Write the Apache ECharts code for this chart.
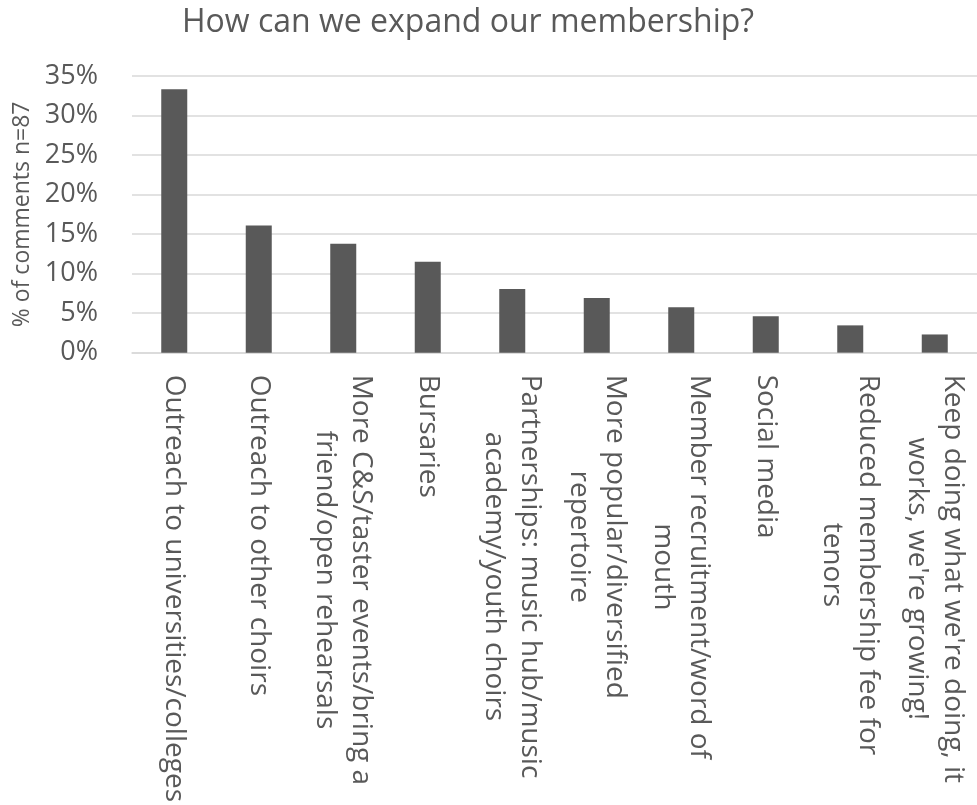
<!DOCTYPE html>
<html>
<head>
<meta charset="utf-8">
<title>How can we expand our membership?</title>
<script src="https://cdn.jsdelivr.net/npm/echarts@6/dist/echarts.min.js"></script>
<style>
  html, body { margin: 0; padding: 0; background: #ffffff; }
  #chart { width: 977px; height: 805px; }
</style>
</head>
<body>
<div id="chart"></div>
<script>
// Suggestions grouped from 87 comments, share of comments in percent
const categories = [
  'Outreach to universities/colleges',
  'Outreach to other choirs',
  'More C&S/taster events/bring a\nfriend/open rehearsals',
  'Bursaries',
  'Partnerships: music hub/music\nacademy/youth choirs',
  'More popular/diversified\nrepertoire',
  'Member recruitment/word of\nmouth',
  'Social media',
  'Reduced membership fee for\ntenors',
  "Keep doing what we're doing, it\nworks, we're growing!"
];
const shareOfComments = [33.33, 16.09, 13.79, 11.49, 8.05, 6.90, 5.75, 4.60, 3.45, 2.30];
const yTicks = { min: 0, max: 35, interval: 5 };

const TEXT = '#595959';
const FONT = 'Open Sans';

const chart = echarts.init(document.getElementById('chart'), null, { renderer: 'canvas' });

chart.setOption({
  backgroundColor: '#ffffff',
  animation: false,
  title: {
    text: 'How can we expand our membership?',
    left: 177,
    top: 2,
    textStyle: { color: TEXT, fontFamily: FONT, fontSize: 32, fontWeight: 'normal' }
  },
  grid: { left: 132, right: -6, top: 76, bottom: 450, containLabel: false },
  xAxis: {
    type: 'category',
    data: categories,
    axisLine: { show: true, lineStyle: { color: '#d9d9d9', width: 1.5 } },
    axisTick: { show: false },
    axisLabel: {
      interval: 0,
      rotate: -90,
      margin: 22,
      color: TEXT,
      fontFamily: FONT,
      fontSize: 28,
      // each wrapped line is centred within the label block
      formatter: function (value) {
        return value.split('\n').map(function (l) { return '{c|' + l + '}'; }).join('\n');
      },
      rich: {
        c: { align: 'center', color: TEXT, fontFamily: FONT, fontSize: 28, lineHeight: 36 }
      }
    }
  },
  yAxis: {
    type: 'value',
    min: yTicks.min,
    max: yTicks.max,
    interval: yTicks.interval,
    name: '% of comments n=87',
    nameLocation: 'middle',
    nameRotate: 90,
    nameGap: 95,
    nameTextStyle: { color: TEXT, fontFamily: FONT, fontSize: 23 },
    axisLine: { show: false },
    axisTick: { show: false },
    axisLabel: {
      color: TEXT,
      fontFamily: FONT,
      fontSize: 27,
      margin: 34,
      formatter: function (v) { return v + '%'; }
    },
    splitLine: { show: true, lineStyle: { color: '#d9d9d9', width: 1.5 } }
  },
  series: [{
    type: 'bar',
    data: shareOfComments,
    barWidth: 26,
    itemStyle: { color: '#595959' },
    silent: true
  }]
});
</script>
</body>
</html>
